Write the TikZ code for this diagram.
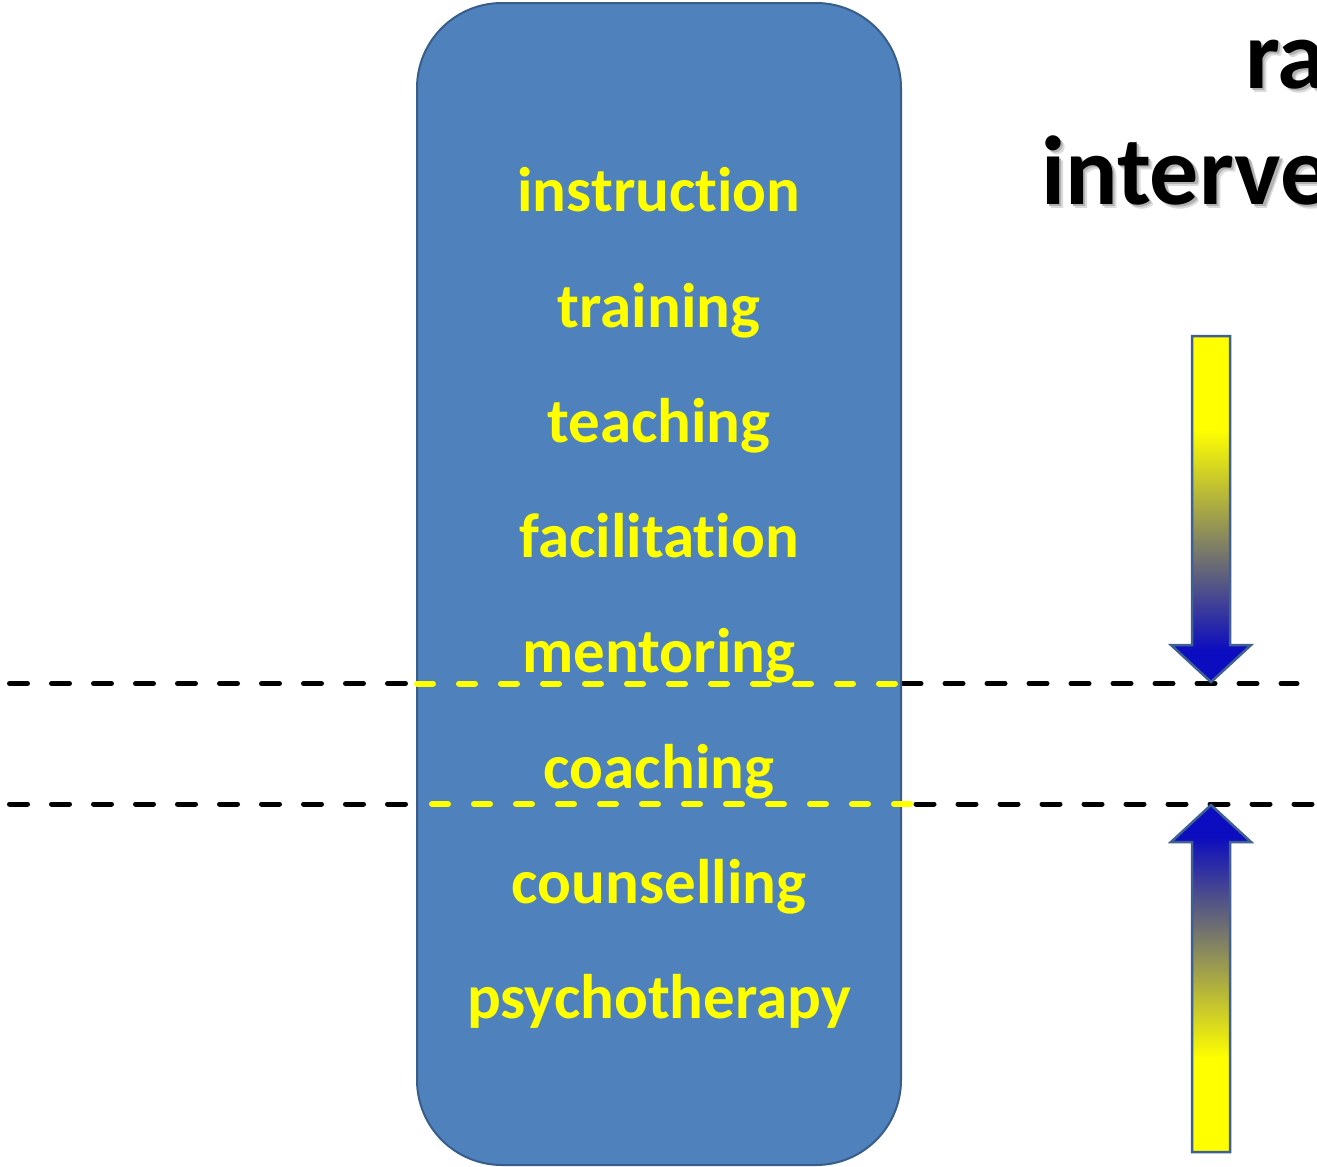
\documentclass[tikz,border=0pt]{standalone}
\usepackage{fontspec}
\setmainfont{Carlito}[Ligatures={NoCommon,NoDiscretionary,NoContextual}]
\usetikzlibrary{calc}

\definecolor{boxfill}{RGB}{79,129,189}
\definecolor{boxline}{RGB}{56,93,138}
\definecolor{arrowline}{RGB}{62,96,146}
\definecolor{deepblue}{RGB}{12,12,192}
\definecolor{brightyellow}{RGB}{255,255,0}

% yellow-to-blue fade along the arrows (path box is mapped to 25bp..75bp)
\pgfdeclareverticalshading{fadearrow}{100bp}{%
  color(0bp)=(deepblue); color(29.5bp)=(deepblue);
  color(61.5bp)=(brightyellow); color(100bp)=(brightyellow)}

% heading word with a soft drop shadow behind it
\newcommand{\shadowword}[1]{%
  \makebox[0pt][l]{\hspace{4pt}\raisebox{-4pt}{\textcolor{black!14}{#1}}}%
  \makebox[0pt][l]{\hspace{2.5pt}\raisebox{-2.5pt}{\textcolor{black!30}{#1}}}%
  #1}

\tikzset{
  stage/.style={font=\fontsize{63}{70}\selectfont\bfseries, text=brightyellow,
                anchor=base, inner sep=0pt},
  headline/.style={font=\fontsize{98}{110}\selectfont\bfseries, text=black,
                   anchor=base west, inner sep=0pt},
  cutblack/.style={line width=5pt, line cap=round, black,
                   dash pattern=on 18pt off 24pt},
  cutyellow/.style={line width=6pt, line cap=round, brightyellow,
                    dash pattern=on 16pt off 26pt},
  fadebar/.style={draw=arrowline, line width=2.5pt, line join=miter,
                  shading=fadearrow},
}

\begin{document}
\begin{tikzpicture}[x=1pt,y=-1pt]
  \useasboundingbox (0,0) rectangle (1317,1167);
  \clip (0,0) rectangle (1317,1167);

  % cut-off positions of the two boundary lines
  \coordinate (l1a) at (9.5,683.5);   \coordinate (l1b) at (417,683.5);
  \coordinate (l1c) at (903,683.5);   \coordinate (l1d) at (1297,683.5);
  \coordinate (y1a) at (417,683.5);   \coordinate (y1b) at (898,683.5);
  \coordinate (l2a) at (9.5,804);     \coordinate (l2b) at (417,804);
  \coordinate (l2c) at (916,804);     \coordinate (l2d) at (1317,804);
  \coordinate (y2a) at (432,804);     \coordinate (y2b) at (912,804);

  % black dashed boundaries outside the column
  \draw[cutblack] (l1a) -- (l1b);
  \draw[cutblack] (l1c) -- (l1d);
  \draw[cutblack] (l2a) -- (l2b);
  \draw[cutblack] (l2c) -- (l2d);

  % the column of interventions
  \node[draw=boxline, fill=boxfill, line width=2pt, rounded corners=85pt,
        minimum width=484pt, minimum height=1162pt, inner sep=0pt]
        (column) at (659,584) {};

  % yellow dashed boundaries across the column
  \draw[cutyellow] (y1a) -- (y1b);
  \draw[cutyellow] (y2a) -- (y2b);

  % intervention labels
  \node[stage] (instruction)   at (659,211)  {instruction};
  \node[stage] (training)      at (659,327)  {training};
  \node[stage] (teaching)      at (659,442)  {teaching};
  \node[stage] (facilitation)  at (659,557)  {facilitation};
  \node[stage] (mentoring)     at (659,672)  {mentoring};
  \node[stage] (coaching)      at (659,788)  {coaching};
  \node[stage] (counselling)   at (659,903)  {counselling};
  \node[stage] (psychotherapy) at (659,1018) {psychotherapy};

  % heading
  \node[headline] (headA) at (1245,88)  {\shadowword{ra}};
  \node[headline] (headB) at (1041,204) {\shadowword{interve}};

  % downward arrow, yellow fading into blue
  \path[fadebar] (1192,336) -- (1230,336) -- (1230,645) -- (1251,645)
      -- (1211,682) -- (1171,645) -- (1192,645) -- cycle;

  % upward arrow, blue fading into yellow
  \path[fadebar, shading angle=180] (1211,805) -- (1251,842) -- (1230,842)
      -- (1230,1152) -- (1192,1152) -- (1192,842) -- (1171,842) -- cycle;
\end{tikzpicture}
\end{document}
